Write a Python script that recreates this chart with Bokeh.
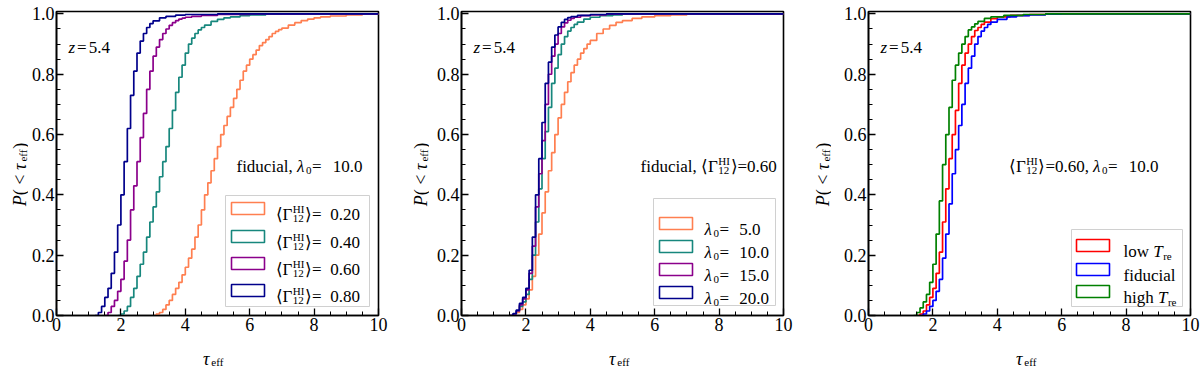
import math
from bokeh.plotting import figure
from bokeh.layouts import row, column
from bokeh.models import Range1d, SingleIntervalTicker, PrintfTickFormatter, Label, BoxAnnotation
from bokeh.embed import file_html
from bokeh.resources import INLINE

# ---------------- data ----------------
# Panel 1: fiducial, lambda0 = 10.0, varying <Gamma_12^HI>
tau_g020 = [3.0, 3.1, 3.2, 3.3, 3.4, 3.5, 3.6, 3.7, 3.8, 3.9, 4.0, 4.1, 4.2, 4.3, 4.4, 4.5, 4.6, 4.7, 4.8, 4.9,
            5.0, 5.1, 5.2, 5.3, 5.4, 5.5, 5.6, 5.7, 5.8, 5.9, 6.0, 6.1, 6.2, 6.3, 6.4, 6.5, 6.6, 6.7, 6.8, 6.9,
            7.0, 7.2, 7.4, 7.6, 7.8, 8.0, 8.2, 8.5, 9.0, 9.5, 10.0]
P_g020 = [0.0, 0.005, 0.01, 0.02, 0.035, 0.05, 0.07, 0.09, 0.11, 0.135, 0.16, 0.19, 0.22, 0.26, 0.30, 0.35, 0.40, 0.44, 0.48, 0.52,
          0.56, 0.60, 0.63, 0.66, 0.69, 0.72, 0.75, 0.78, 0.81, 0.83, 0.85, 0.865, 0.88, 0.895, 0.905, 0.915, 0.925, 0.935, 0.942, 0.948,
          0.953, 0.963, 0.971, 0.978, 0.983, 0.987, 0.99, 0.993, 0.997, 0.999, 1.0]

tau_g040 = [1.9, 2.0, 2.1, 2.2, 2.3, 2.4, 2.5, 2.6, 2.7, 2.8, 2.9, 3.0, 3.1, 3.2, 3.3, 3.4, 3.5, 3.6, 3.7, 3.8,
            3.9, 4.0, 4.1, 4.2, 4.3, 4.4, 4.5, 4.6, 4.8, 5.0, 5.2, 5.4, 5.7, 6.0, 6.5, 7.0, 10.0]
P_g040 = [0.0, 0.005, 0.015, 0.03, 0.06, 0.09, 0.13, 0.17, 0.21, 0.26, 0.31, 0.36, 0.41, 0.46, 0.51, 0.56, 0.62, 0.68, 0.74, 0.79,
          0.83, 0.87, 0.90, 0.92, 0.935, 0.947, 0.955, 0.963, 0.975, 0.982, 0.987, 0.99, 0.994, 0.997, 0.999, 1.0, 1.0]

tau_g060 = [1.5, 1.6, 1.7, 1.8, 1.9, 2.0, 2.1, 2.2, 2.3, 2.4, 2.5, 2.6, 2.7, 2.8, 2.9, 3.0, 3.1, 3.2, 3.3, 3.4,
            3.5, 3.6, 3.7, 3.8, 3.9, 4.0, 4.2, 4.5, 5.0, 6.0, 10.0]
P_g060 = [0.0, 0.01, 0.03, 0.05, 0.08, 0.12, 0.18, 0.25, 0.35, 0.43, 0.51, 0.59, 0.67, 0.75, 0.81, 0.86, 0.89, 0.915, 0.935, 0.95,
          0.962, 0.971, 0.978, 0.983, 0.986, 0.989, 0.992, 0.995, 0.998, 1.0, 1.0]

tau_g080 = [1.2, 1.3, 1.4, 1.5, 1.6, 1.7, 1.8, 1.9, 2.0, 2.1, 2.2, 2.3, 2.4, 2.5, 2.6, 2.7, 2.8, 2.9, 3.0, 3.2,
            3.4, 3.7, 4.0, 5.0, 10.0]
P_g080 = [0.0, 0.01, 0.03, 0.06, 0.09, 0.14, 0.21, 0.30, 0.40, 0.51, 0.62, 0.73, 0.81, 0.87, 0.91, 0.935, 0.955, 0.968, 0.977, 0.987,
          0.992, 0.996, 0.998, 1.0, 1.0]

# Panel 2: fiducial, <Gamma> = 0.60, varying lambda0
tau_l05 = [1.5, 1.6, 1.7, 1.8, 1.9, 2.0, 2.1, 2.2, 2.3, 2.4, 2.5, 2.6, 2.7, 2.8, 2.9, 3.0, 3.1, 3.2, 3.3, 3.4,
           3.5, 3.6, 3.7, 3.8, 3.9, 4.0, 4.2, 4.4, 4.6, 4.8, 5.0, 5.3, 5.6, 6.0, 6.5, 7.0, 8.0, 10.0]
P_l05 = [0.0, 0.003, 0.01, 0.02, 0.035, 0.055, 0.085, 0.13, 0.20, 0.27, 0.34, 0.41, 0.48, 0.54, 0.60, 0.655, 0.70, 0.74, 0.775, 0.805,
         0.83, 0.85, 0.87, 0.885, 0.90, 0.912, 0.935, 0.95, 0.962, 0.972, 0.978, 0.985, 0.99, 0.994, 0.997, 0.999, 1.0, 1.0]

tau_l10 = [1.5, 1.6, 1.7, 1.8, 1.9, 2.0, 2.1, 2.2, 2.3, 2.4, 2.5, 2.6, 2.7, 2.8, 2.9, 3.0, 3.1, 3.2, 3.3, 3.4,
           3.5, 3.6, 3.8, 4.0, 4.3, 4.7, 5.0, 5.5, 10.0]
P_l10 = [0.0, 0.005, 0.015, 0.03, 0.045, 0.07, 0.12, 0.20, 0.31, 0.42, 0.52, 0.61, 0.69, 0.77, 0.82, 0.865, 0.90, 0.925, 0.943, 0.955,
         0.965, 0.973, 0.983, 0.989, 0.994, 0.997, 0.999, 1.0, 1.0]

tau_l15 = [1.5, 1.6, 1.7, 1.8, 1.9, 2.0, 2.1, 2.2, 2.3, 2.4, 2.5, 2.6, 2.7, 2.8, 2.9, 3.0, 3.1, 3.2, 3.3, 3.4,
           3.5, 3.7, 4.0, 4.5, 5.0, 10.0]
P_l15 = [0.0, 0.005, 0.015, 0.035, 0.055, 0.085, 0.14, 0.23, 0.36, 0.47, 0.58, 0.70, 0.80, 0.86, 0.90, 0.935, 0.957, 0.97, 0.979, 0.985,
         0.989, 0.994, 0.997, 0.999, 1.0, 1.0]

tau_l20 = [1.5, 1.6, 1.7, 1.8, 1.9, 2.0, 2.1, 2.2, 2.3, 2.4, 2.5, 2.6, 2.7, 2.8, 2.9, 3.0, 3.1, 3.2, 3.3, 3.4,
           3.6, 4.0, 4.5, 10.0]
P_l20 = [0.0, 0.006, 0.018, 0.04, 0.06, 0.09, 0.15, 0.26, 0.40, 0.52, 0.64, 0.77, 0.84, 0.89, 0.93, 0.957, 0.972, 0.982, 0.988, 0.991,
         0.995, 0.998, 1.0, 1.0]

# Panel 3: <Gamma> = 0.60, lambda0 = 10.0, varying T_re
tau_low = [1.5, 1.6, 1.7, 1.8, 1.9, 2.0, 2.1, 2.2, 2.3, 2.4, 2.5, 2.6, 2.7, 2.8, 2.9, 3.0, 3.1, 3.2, 3.3, 3.4,
           3.5, 3.6, 3.8, 4.0, 4.4, 5.0, 5.5, 10.0]
P_low = [0.0, 0.005, 0.015, 0.035, 0.06, 0.09, 0.14, 0.21, 0.31, 0.42, 0.52, 0.60, 0.68, 0.77, 0.83, 0.87, 0.90, 0.925, 0.945, 0.955,
         0.965, 0.973, 0.984, 0.99, 0.995, 0.998, 1.0, 1.0]

tau_fid = [1.6, 1.7, 1.8, 1.9, 2.0, 2.1, 2.2, 2.3, 2.4, 2.5, 2.6, 2.7, 2.8, 2.9, 3.0, 3.1, 3.2, 3.3, 3.4, 3.5,
           3.6, 3.7, 3.8, 4.0, 4.3, 4.6, 5.0, 5.5, 6.0, 10.0]
P_fid = [0.0, 0.005, 0.015, 0.03, 0.05, 0.08, 0.12, 0.19, 0.27, 0.37, 0.47, 0.55, 0.63, 0.70, 0.77, 0.82, 0.86, 0.90, 0.925, 0.943,
         0.955, 0.965, 0.973, 0.982, 0.99, 0.994, 0.997, 0.999, 1.0, 1.0]

tau_high = [1.4, 1.5, 1.6, 1.7, 1.8, 1.9, 2.0, 2.1, 2.2, 2.3, 2.4, 2.5, 2.6, 2.7, 2.8, 2.9, 3.0, 3.1, 3.2, 3.3,
            3.4, 3.6, 3.8, 4.2, 4.8, 5.5, 10.0]
P_high = [0.0, 0.01, 0.025, 0.045, 0.07, 0.11, 0.17, 0.27, 0.38, 0.50, 0.60, 0.69, 0.78, 0.83, 0.87, 0.90, 0.925, 0.947, 0.957, 0.967,
          0.975, 0.985, 0.99, 0.995, 0.998, 1.0, 1.0]

gamma_labels = ["0.20", "0.40", "0.60", "0.80"]
lambda_labels = ["5.0", "10.0", "15.0", "20.0"]
trec_labels = ["low", "fiducial", "high"]

C_ORANGE = "#ff7f50"
C_TEAL = "#17877d"
C_PURPLE = "#8b008b"
C_NAVY = "#00008b"

# ---------------- styling helpers ----------------
FONT = "Liberation Serif"
FS = 17      # in-plot text
FA = 18      # axis text
SS = 11      # scripts
FW, FH = 322, 304
TOP, BOT = 11, 25
XL_H = 28
YL_W = 28
XMAX, YMAX = 10.0, 1.008
PXX = FW / XMAX
PXY = FH / YMAX
MAIN = (PXX, PXY)
UNIT = (1.0, 1.0)
FIG_H = TOP + FH + BOT

WIDTHS = {'0': .5, '1': .5, '2': .5, '3': .5, '4': .5, '5': .5, '6': .5, '7': .5, '8': .5, '9': .5,
          '.': .25, ',': .25, ' ': .25, '=': .564, '(': .333, ')': .333, '<': .564, 'f': .333, 'i': .278,
          'd': .5, 'u': .5, 'c': .444, 'a': .444, 'l': .278, 'o': .5, 'w': .722, 'h': .5, 'g': .5,
          'e': .444, 'r': .333, 'H': .722, 'I': .333, 'Γ': .578, '⟨': .39, '⟩': .39,
          'P': .611, 'z': .389, 'T': .556, 'τ': .44, 'λ': .5}


def wid(s, size):
    return sum(WIDTHS.get(c, 0.5) for c in s) * size


def seg_width(seg, fs):
    k = seg[0]
    if k in ("t", "i"):
        return wid(seg[1], fs)
    if k == "sub":
        return wid(seg[1], SS) + 1
    if k == "ss":
        return max(wid(seg[1], SS), wid(seg[2], SS)) + 1.5
    if k == "gap":
        return seg[1]
    return 0


def lab(p, sc, xpx, ypx, text, size, style="normal", angle=0.0):
    p.add_layout(Label(x=xpx / sc[0], y=ypx / sc[1], x_units="data", y_units="data", text=text,
                       text_font=FONT, text_font_size=f"{size}px", text_font_style=style,
                       text_color="black", text_baseline="alphabetic", text_align="left",
                       angle=angle))


def rich(p, sc, x0, y0, segs, align="left", fs=FS, sub_drop=4):
    total = sum(seg_width(s, fs) for s in segs)
    if align == "right":
        x = x0 - total
    elif align == "center":
        x = x0 - total / 2
    else:
        x = x0
    for s in segs:
        k = s[0]
        if k in ("t", "i"):
            lab(p, sc, x, y0, s[1], fs, "italic" if k == "i" else "normal")
        elif k == "sub":
            lab(p, sc, x + 0.5, y0 - sub_drop, s[1], SS)
        elif k == "ss":
            lab(p, sc, x + 0.8, y0 + 6, s[1], SS)
            lab(p, sc, x + 0.8, y0 - 4, s[2], SS)
        x += seg_width(s, fs)


def rich_vertical(p, xb, ymid, segs, fs=FA):
    total = sum(seg_width(s, fs) for s in segs)
    y = ymid - total / 2
    for s in segs:
        k = s[0]
        if k in ("t", "i"):
            lab(p, UNIT, xb, y, s[1], fs, "italic" if k == "i" else "normal", angle=math.pi / 2)
        elif k == "sub":
            lab(p, UNIT, xb + 3.5, y + 0.5, s[1], SS, angle=math.pi / 2)
        y += seg_width(s, fs)


def text_fig(w, h):
    f = figure(frame_width=w, frame_height=h, x_range=Range1d(0, w), y_range=Range1d(0, h),
               x_axis_type=None, y_axis_type=None, output_backend="svg", toolbar_location=None,
               min_border_left=0, min_border_right=0, min_border_top=0, min_border_bottom=0)
    f.outline_line_color = None
    f.xgrid.visible = False
    f.ygrid.visible = False
    f.background_fill_color = "white"
    f.border_fill_color = "white"
    return f


def ylabel_fig():
    f = text_fig(YL_W, FIG_H)
    rich_vertical(f, 19, BOT + FH / 2,
                  [("i", "P"), ("t", "( < "), ("i", "τ"), ("sub", "eff"), ("t", ")")])
    return f


def make_fig(lb, rb):
    p = figure(frame_width=FW, frame_height=FH, x_range=Range1d(0, XMAX), y_range=Range1d(0, YMAX),
               output_backend="svg", toolbar_location=None,
               min_border_left=lb, min_border_right=rb, min_border_top=TOP, min_border_bottom=BOT)
    p.xgrid.visible = False
    p.ygrid.visible = False
    p.xaxis.ticker = SingleIntervalTicker(interval=2, num_minor_ticks=4)
    p.yaxis.ticker = SingleIntervalTicker(interval=0.2, num_minor_ticks=4)
    p.yaxis.formatter = PrintfTickFormatter(format="%.1f")
    p.xaxis.formatter = PrintfTickFormatter(format="%d")
    for ax in (p.xaxis[0], p.yaxis[0]):
        ax.major_tick_in = 7
        ax.major_tick_out = 0
        ax.minor_tick_in = 4
        ax.minor_tick_out = 0
        ax.major_tick_line_width = 1.3
        ax.minor_tick_line_width = 1
        ax.major_tick_line_color = "black"
        ax.minor_tick_line_color = "black"
        ax.axis_line_width = 1.6
        ax.axis_line_color = "black"
        ax.major_label_text_font = FONT
        ax.major_label_text_font_size = f"{FA}px"
        ax.major_label_text_color = "black"
    p.xaxis.major_label_standoff = 2
    p.yaxis.major_label_standoff = 2
    p.outline_line_color = "black"
    p.outline_line_width = 1.6
    p.outline_line_alpha = 1.0
    p.background_fill_color = "white"
    p.border_fill_color = "white"
    # redshift tag
    rich(p, MAIN, 12, FH - 30 - 6, [("i", "z"), ("gap", 2), ("t", "="), ("gap", 2), ("t", "5.4")])
    return p


def legend(p, box, rows):
    # box: (from_right_left, from_right_right, bottom, top) in px
    l, r, b, t = box
    p.add_layout(BoxAnnotation(left=(FW - l) / PXX, right=(FW - r) / PXX, bottom=b / PXY, top=t / PXY,
                               fill_color="white", fill_alpha=1.0, line_color="#d0d0d0", line_width=1,
                               line_alpha=1.0))
    for (yc, color, pl, pr, tx, segs) in rows:
        p.add_layout(BoxAnnotation(left=(FW - pl) / PXX, right=(FW - pr) / PXX,
                                   bottom=(yc - 6) / PXY, top=(yc + 6) / PXY,
                                   fill_alpha=0.0, line_color=color, line_width=1.6, line_alpha=1.0))
        rich(p, MAIN, FW - tx, yc - 6, segs)


def gam(v):
    return [("t", "⟨Γ"), ("ss", "HI", "12"), ("t", "⟩="), ("gap", 9), ("t", v)]


def lam(v):
    return [("i", "λ"), ("sub", "0"), ("t", " ="), ("gap", 6), ("t", v)]


ANN_Y = 0.509 * FH - 6   # baseline of the in-panel description (px above frame bottom)

# ---------------- Panel 1 ----------------
p1 = make_fig(24, 23)
for tx, py, c in [(tau_g020, P_g020, C_ORANGE), (tau_g040, P_g040, C_TEAL),
                  (tau_g060, P_g060, C_PURPLE), (tau_g080, P_g080, C_NAVY)]:
    assert len(tx) == len(py)
    p1.step(x=tx, y=py, mode="after", line_color=c, line_width=1.7)
rich(p1, MAIN, FW - 16, ANN_Y,
     [("t", "fiducial, "), ("i", "λ"), ("sub", "0"), ("t", " ="), ("gap", 7), ("t", "10.0")], align="right")
legend(p1, (153, 9, 9, 120),
       [(107, C_ORANGE, 147, 114, 103, gam(gamma_labels[0])),
        (79, C_TEAL, 147, 114, 103, gam(gamma_labels[1])),
        (52, C_PURPLE, 147, 114, 103, gam(gamma_labels[2])),
        (25, C_NAVY, 147, 114, 103, gam(gamma_labels[3]))])

# ---------------- Panel 2 ----------------
p2 = make_fig(32, 20)
for tx, py, c in [(tau_l05, P_l05, C_ORANGE), (tau_l10, P_l10, C_TEAL),
                  (tau_l15, P_l15, C_PURPLE), (tau_l20, P_l20, C_NAVY)]:
    assert len(tx) == len(py)
    p2.step(x=tx, y=py, mode="after", line_color=c, line_width=1.7)
rich(p2, MAIN, FW - 7, ANN_Y,
     [("t", "fiducial, ⟨Γ"), ("ss", "HI", "12"), ("t", "⟩=0.60")], align="right")
legend(p2, (130, 8, 10, 117),
       [(92, C_ORANGE, 124, 91, 79, lam(lambda_labels[0])),
        (69, C_TEAL, 124, 91, 79, lam(lambda_labels[1])),
        (46, C_PURPLE, 124, 91, 79, lam(lambda_labels[2])),
        (23, C_NAVY, 124, 91, 79, lam(lambda_labels[3]))])

# ---------------- Panel 3 ----------------
p3 = make_fig(37, 12)
for tx, py, c in [(tau_low, P_low, "#ff0000"), (tau_fid, P_fid, "#0000ff"), (tau_high, P_high, "#008000")]:
    assert len(tx) == len(py)
    p3.step(x=tx, y=py, mode="after", line_color=c, line_width=1.7)
rich(p3, MAIN, FW - 32, ANN_Y,
     [("t", "⟨Γ"), ("ss", "HI", "12"), ("t", "⟩=0.60, "), ("i", "λ"), ("sub", "0"), ("t", " ="),
      ("gap", 7), ("t", "10.0")], align="right")
legend(p3, (119, 8, 9, 86),
       [(70, "#ff0000", 114, 81, 67, [("t", trec_labels[0] + " "), ("i", "T"), ("sub", "re")]),
        (46, "#0000ff", 114, 81, 67, [("t", trec_labels[1])]),
        (24, "#008000", 114, 81, 67, [("t", trec_labels[2] + " "), ("i", "T"), ("sub", "re")])])

# ---------------- axis titles ----------------
y1, y2, y3 = ylabel_fig(), ylabel_fig(), ylabel_fig()
xl = text_fig(1199, XL_H)
for cx in (52 + FW / 2, 458 + FW / 2, 865 + FW / 2):
    rich(xl, UNIT, cx, 10, [("i", "τ"), ("sub", "eff")], align="center", fs=FA, sub_drop=3.5)

layout = column(row(y1, p1, y2, p2, y3, p3), xl)
open("out.html", "w").write(file_html(layout, INLINE))
